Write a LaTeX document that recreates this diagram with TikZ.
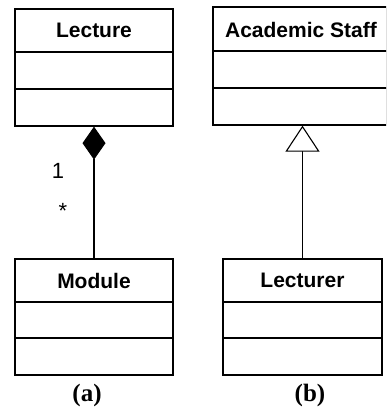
\documentclass[tikz,border=0pt]{standalone}
\usepackage{fontspec}
\setmainfont{Liberation Sans}
\newfontfamily\serifbold{Liberation Serif}
\usetikzlibrary{arrows.meta}
\begin{document}
\begin{tikzpicture}[x=1pt,y=-1pt,
  classbox/.style={draw=black, line width=1.3pt, inner sep=0pt},
  classtitle/.style={font=\fontsize{21}{24}\selectfont\bfseries, inner sep=0pt},
  lbl/.style={font=\fontsize{22}{26}\selectfont, inner sep=0pt},
  caption/.style={font=\serifbold\fontsize{25}{28}\selectfont\bfseries, inner sep=0pt},
  conn/.style={line width=1.1pt}]
\useasboundingbox (0,0) rectangle (386,412);
\clip (0,0) rectangle (386,412);
% class boxes
\node[classbox, minimum width=158pt, minimum height=117pt] (lecture) at (94,67.5) {};
\node[classbox, minimum width=174pt, minimum height=118pt] (staff) at (300,66) {};
\node[classbox, minimum width=158pt, minimum height=116pt] (module) at (94,317) {};
\node[classbox, minimum width=159pt, minimum height=116pt] (lecturer) at (302.5,317) {};
% dividers
\foreach \b/\ya/\yb in {lecture/52/89, staff/51/88, module/302/338, lecturer/302/338}{
  \draw[line width=1.3pt] (\b.west |- 0,\ya) -- (\b.east |- 0,\ya);
  \draw[line width=1.3pt] (\b.west |- 0,\yb) -- (\b.east |- 0,\yb);
}
% titles
\node[classtitle] (lectureT) at (94,30.5) {Lecture};
\node[classtitle] (staffT) at (301,29.5) {Academic Staff};
\node[classtitle] (moduleT) at (94,280.5) {Module};
\node[classtitle] (lecturerT) at (302.5,280.5) {Lecturer};
% composition
\draw[conn, -{Diamond[length=33pt,width=23pt,fill=black]}] (module.north) -- (lecture.south);
\node[lbl] (one) at (58,171) {1};
\node[lbl] (many) at (63,211) {*};
% generalization
\coordinate (apex) at (lecturer.north |- staff.south);
\draw[conn, -{Triangle[open,length=26pt,width=34pt,fill=white]}] (lecturer.north) -- (apex);
% captions
\node[caption] (capa) at (87,395) {(a)};
\node[caption] (capb) at (310,395) {(b)};
\end{tikzpicture}
\end{document}
